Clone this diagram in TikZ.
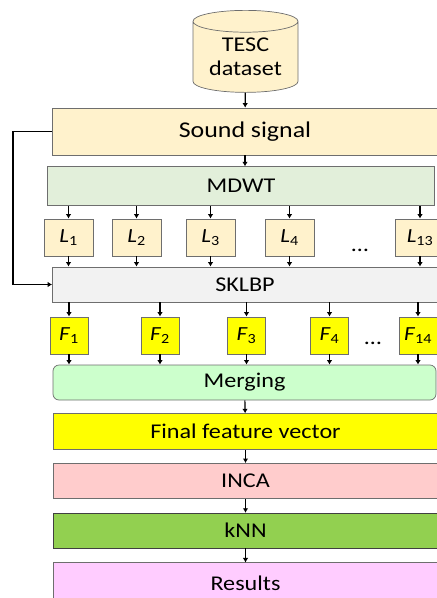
\documentclass[tikz,border=0pt]{standalone}
\usepackage{fontspec}
\setmainfont{Carlito}[FakeStretch=1.15]
\usetikzlibrary{arrows.meta,positioning,shapes.geometric}
\definecolor{edgegray}{RGB}{110,110,110}
\definecolor{cream}{RGB}{255,242,204}
\definecolor{mdwtgreen}{RGB}{226,239,218}
\definecolor{paleGray}{RGB}{242,242,242}
\definecolor{mintgreen}{RGB}{204,255,204}
\definecolor{featyellow}{RGB}{255,255,0}
\definecolor{incapink}{RGB}{255,204,204}
\definecolor{knngreen}{RGB}{146,208,80}
\definecolor{respink}{RGB}{255,204,255}
\newcommand{\band}[2]{\textit{#1}\textsubscript{#2}}

\begin{document}
\begin{tikzpicture}[x=1pt, y=-1pt, node distance=13pt,
        every node/.style={font=\fontsize{21}{24}\selectfont},
        stage/.style={rectangle,draw=edgegray,line width=0.7pt,minimum width=385pt,inner sep=0pt,align=center},
        band/.style={rectangle,draw=edgegray,line width=0.7pt,fill=cream,minimum width=49pt,minimum height=37pt,
          inner sep=0pt,font=\fontsize{20}{22}\selectfont},
        feat/.style={rectangle,draw=edgegray,line width=0.7pt,fill=featyellow,minimum width=38pt,minimum height=37pt,
          inner sep=0pt,font=\fontsize{20}{22}\selectfont},
        arrow/.style={-{Latex[length=4.5pt,width=5.5pt]},line width=1.2pt}]
        \useasboundingbox (0,0) rectangle (437,598);
        \node[cylinder,shape border rotate=90,aspect=0.3,draw=edgegray,line width=0.7pt,fill=cream,
          minimum width=105pt,minimum height=82pt,align=center,inner sep=0pt] (db) at (245.5,57) {TESC\\dataset};
        \node[stage,fill=cream,minimum height=47pt,font=\fontsize{22.5}{26}\selectfont] (snd) at (245,131.5) {Sound signal};
        \node[stage,fill=mdwtgreen,minimum width=387pt,minimum height=39pt,below=11pt of snd,xshift=-4pt] (mdwt) {MDWT};
        % decomposition levels
        \node[band] (l1) at (68.5,237.5) {\band{L}{1}};
        \node[band] (l2) at (136.5,237.5) {\band{L}{2}};
        \node[band] (l3) at (210.5,237.5) {\band{L}{3}};
        \node[band] (l4) at (289.5,237.5) {\band{L}{4}};
        \node[band] (l13) at (420,237.5) {\band{L}{13}};
        \node (ldots) at (360,250) {\dots};
        \node[stage,fill=paleGray,minimum height=35pt] (sklbp) at (245,284.5) {SKLBP};
        % feature vectors
        \node[feat] (f1) at (69,335.5) {\band{F}{1}};
        \node[feat] (f2) at (160,335.5) {\band{F}{2}};
        \node[feat] (f3) at (246.5,335.5) {\band{F}{3}};
        \node[feat] (f4) at (329.5,335.5) {\band{F}{4}};
        \node[feat] (f14) at (418,335.5) {\band{F}{14}};
        \node (fdots) at (373,343) {\dots};
        \node[stage,fill=mintgreen,minimum width=383pt,minimum height=35pt,rounded corners=6pt] (merge) at (244.5,382.5) {Merging};
        \node[stage,fill=featyellow,minimum height=36pt,below=13pt of merge,xshift=1pt] (final) {Final feature vector};
        \node[stage,fill=incapink,minimum height=35pt,below=13pt of final] (inca) {INCA};
        \node[stage,fill=knngreen,draw=black!75,minimum height=35pt,below=14pt of inca] (knn) {kNN};
        \node[stage,fill=respink,minimum height=40pt,below=14pt of knn] (res) {Results};
        \draw[arrow] (db) -- (snd);
        \draw[arrow] (snd.south) -- (snd.south |- mdwt.north);
        \draw[arrow] (mdwt.south -| l1) -- (l1);
        \draw[arrow] (mdwt.south -| l2) -- (l2);
        \draw[arrow] (mdwt.south -| l3) -- (l3);
        \draw[arrow] (mdwt.south -| l4) -- (l4);
        \draw[arrow] (mdwt.south -| l13) -- (l13);
        \draw[arrow] (l1) -- (l1 |- sklbp.north);
        \draw[arrow] (l2) -- (l2 |- sklbp.north);
        \draw[arrow] (l3) -- (l3 |- sklbp.north);
        \draw[arrow] (l4) -- (l4 |- sklbp.north);
        \draw[arrow] (l13) -- (l13 |- sklbp.north);
        \draw[arrow] (sklbp.south -| f1) -- (f1);
        \draw[arrow] (sklbp.south -| f2) -- (f2);
        \draw[arrow] (sklbp.south -| f3) -- (f3);
        \draw[arrow] (sklbp.south -| f4) -- (f4);
        \draw[arrow] (sklbp.south -| f14) -- (f14);
        \draw[arrow] (f1) -- (f1 |- merge.north);
        \draw[arrow] (f2) -- (f2 |- merge.north);
        \draw[arrow] (f3) -- (f3 |- merge.north);
        \draw[arrow] (f4) -- (f4 |- merge.north);
        \draw[arrow] (f14) -- (f14 |- merge.north);
        \draw[arrow] (merge) -- (final);
        \draw[arrow] (final) -- (inca);
        \draw[arrow] (inca) -- (knn);
        \draw[arrow] (knn) -- (res);
        % the raw signal is also fed to SKLBP
        \draw[arrow,line width=1.8pt] (snd.west) -- ++(-39,0) |- (sklbp.west);
      \end{tikzpicture}
\end{document}
